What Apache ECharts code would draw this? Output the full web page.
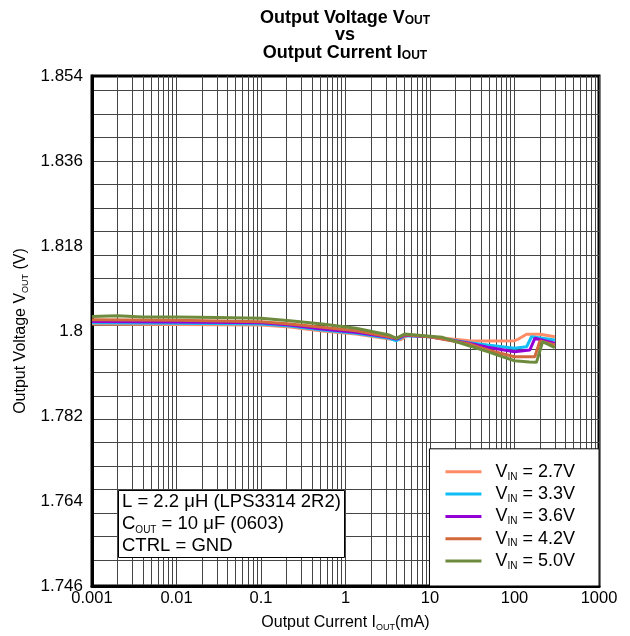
<!DOCTYPE html>
<html>
<head>
<meta charset="utf-8">
<script src="https://cdn.jsdelivr.net/npm/echarts@6/dist/echarts.min.js"></script>
<style>
  html, body { margin: 0; padding: 0; background: #fff; }
  #chart { width: 630px; height: 636px; }
</style>
</head>
<body>
<div id="chart"></div>
<script>
// 数据
const vinLabels = ['2.7V', '3.3V', '3.6V', '4.2V', '5.0V']
const colors = ['#FF8C66', '#10BEF5', '#9400D3', '#D2693C', '#6E8B3D']

const iout27 = [0.001, 0.01, 0.1, 0.22, 0.53, 1.33, 3.3, 4.5, 5.5, 10, 29, 48, 100, 110, 139, 200, 300]
const vout27 = [1.80148, 1.80138, 1.80127, 1.80085, 1.8, 1.79936, 1.7983, 1.79815, 1.79915, 1.79879, 1.79794, 1.79788, 1.79794, 1.79824, 1.7993, 1.7993, 1.79879]

const iout33 = [0.001, 0.01, 0.1, 0.22, 0.53, 1.33, 3.3, 4, 5, 10, 29, 48, 100, 139, 159, 300]
const vout33 = [1.80174, 1.80164, 1.80148, 1.80106, 1.80021, 1.79951, 1.79845, 1.79794, 1.799, 1.79879, 1.79752, 1.79703, 1.79634, 1.79667, 1.79879, 1.79809]

const iout36 = [0.001, 0.01, 0.1, 0.22, 0.53, 1.33, 3.3, 4, 5, 10, 29, 48, 100, 152, 174, 300]
const vout36 = [1.80201, 1.80191, 1.80176, 1.80127, 1.80042, 1.79972, 1.79866, 1.7983, 1.79909, 1.79879, 1.79739, 1.79655, 1.79562, 1.79598, 1.79845, 1.79739]

const iout42 = [0.001, 0.01, 0.1, 0.22, 0.53, 1.33, 3.3, 4, 5, 10, 29, 48, 100, 174, 200, 300]
const vout42 = [1.80239, 1.80227, 1.80197, 1.80148, 1.80078, 1.80006, 1.79879, 1.79845, 1.79921, 1.79879, 1.79725, 1.79598, 1.79456, 1.79456, 1.79788, 1.79703]

const iout50 = [0.001, 0.002, 0.004, 0.01, 0.03, 0.1, 0.22, 0.53, 1.33, 3.3, 4, 5, 10, 14, 29, 48, 100, 150, 182, 215, 300]
const vout50 = [1.80307, 1.80322, 1.80296, 1.80296, 1.80286, 1.80269, 1.80218, 1.80148, 1.80057, 1.79915, 1.79845, 1.79936, 1.79891, 1.79866, 1.79688, 1.79562, 1.79371, 1.79343, 1.79337, 1.79773, 1.79646]

const xMin = 0.001, xMax = 1000
const yMin = 1.746, yMax = 1.854, yStep = 0.018

const ioutList = [iout27, iout33, iout36, iout42, iout50]
const voutList = [vout27, vout33, vout36, vout42, vout50]

// 网格线位置（对数网格 + 水平网格）
const gridX = []
for (let d = -3; d < 3; d++) {
  for (let m = 1; m <= 9; m++) gridX.push(d + Math.log10(m))
}
gridX.push(3)
const gridY = []
for (let k = 0; k <= 20; k++) gridY.push(1.85089 - 0.00497 * k)

const font = 'Liberation Sans'
const gridLine = { show: true, lineStyle: { color: '#444', width: 1 } }

const chart = echarts.init(document.getElementById('chart'))
chart.setOption({
  animation: false,
  textStyle: { fontFamily: font, color: '#000' },
  title: [
    {
      text: '{t|Output Voltage V}{ts|OUT}\n{t|vs}\n{t|Output Current I}{ts|OUT}',
      left: 345,
      top: 9,
      padding: 0,
      textAlign: 'center',
      textStyle: {
        rich: {
          t: { fontFamily: font, fontSize: 18, fontWeight: 'bold', lineHeight: 17.5, color: '#000' },
          ts: { fontFamily: font, fontSize: 12, fontWeight: 'bold', lineHeight: 11, verticalAlign: 'bottom', color: '#000' }
        }
      }
    },
    {
      text: '{a|L = 2.2 μH (LPS3314 2R2)}\n{a|C}{s|OUT}{a| = 10 μF (0603)}\n{a|CTRL = GND}',
      left: 118,
      top: 489,
      padding: [2, 4, 2, 4],
      backgroundColor: '#fff',
      borderColor: '#000',
      borderWidth: 1,
      textStyle: {
        fontWeight: 'normal',
        rich: {
          a: { fontFamily: font, fontSize: 18.5, fontWeight: 'normal', lineHeight: 22, color: '#000' },
          s: { fontFamily: font, fontSize: 10, fontWeight: 'normal', lineHeight: 13, verticalAlign: 'bottom', color: '#000' }
        }
      }
    }
  ],
  legend: {
    orient: 'vertical',
    right: 31,
    bottom: 50,
    padding: [14, 24, 15, 16],
    itemGap: 3.3,
    itemWidth: 36,
    itemHeight: 3,
    icon: 'rect',
    backgroundColor: '#fff',
    borderColor: '#000',
    borderWidth: 1,
    data: vinLabels.map(v => 'VIN = ' + v),
    formatter: name => '{g|}{v|V}{s|IN}{v| = ' + name.split('= ')[1] + '}',
    textStyle: {
      rich: {
        g: { width: 9, lineHeight: 20 },
        v: { fontFamily: font, fontSize: 18, lineHeight: 20, color: '#000' },
        s: { fontFamily: font, fontSize: 10, lineHeight: 12, verticalAlign: 'bottom', color: '#000' }
      }
    }
  },
  grid: {
    left: 92, right: 31, top: 76, bottom: 50,
    outerBoundsMode: 'none',
    show: true, borderColor: '#000', borderWidth: 3, backgroundColor: '#fff'
  },
  xAxis: [
    {
      type: 'log',
      logBase: 10,
      min: xMin,
      max: xMax,
      name: '{n|Output Current I}{s|OUT}{n|(mA)}',
      nameLocation: 'middle',
      nameGap: 28,
      nameTextStyle: {
        rich: {
          n: { fontFamily: font, fontSize: 16, lineHeight: 18, color: '#000' },
          s: { fontFamily: font, fontSize: 9, lineHeight: 11, verticalAlign: 'bottom', color: '#000' }
        }
      },
      axisLine: { show: true, onZero: false, lineStyle: { color: '#000', width: 3 } },
      axisTick: { show: false },
      splitLine: { show: false },
      axisLabel: {
        fontSize: 16.5, color: '#000', margin: 4,
        formatter: v => String(parseFloat(Number(v).toPrecision(6)))
      }
    },
    {
      type: 'value',
      min: -3, max: 3,
      position: 'bottom',
      axisLine: { show: false, onZero: false },
      axisLabel: { show: false },
      axisTick: { show: false, customValues: gridX },
      splitLine: gridLine
    }
  ],
  yAxis: [
    {
      type: 'value',
      min: yMin,
      max: yMax,
      interval: yStep,
      name: '{n|Output Voltage V}{s|OUT}{n| (V)}',
      nameLocation: 'middle',
      nameGap: 62,
      nameTextStyle: {
        rich: {
          n: { fontFamily: font, fontSize: 16, lineHeight: 18, color: '#000' },
          s: { fontFamily: font, fontSize: 9, lineHeight: 11, verticalAlign: 'bottom', color: '#000' }
        }
      },
      axisLine: { show: true, onZero: false, lineStyle: { color: '#000', width: 3 } },
      axisTick: { show: false },
      splitLine: { show: false },
      axisLabel: {
        fontSize: 17, color: '#000', margin: 9,
        formatter: v => String(parseFloat(Number(v).toFixed(3)))
      }
    },
    {
      type: 'value',
      min: yMin,
      max: yMax,
      axisLine: { show: false, onZero: false },
      axisLabel: { show: false },
      axisTick: { show: false, customValues: gridY },
      splitLine: gridLine
    }
  ],
  series: vinLabels.map((v, i) => ({
    name: 'VIN = ' + v,
    type: 'line',
    xAxisIndex: 0,
    yAxisIndex: 0,
    showSymbol: false,
    symbol: 'none',
    color: colors[i],
    lineStyle: { width: 3, color: colors[i] },
    data: ioutList[i].map((x, j) => [x, voutList[i][j]])
  }))
})
</script>
</body>
</html>
